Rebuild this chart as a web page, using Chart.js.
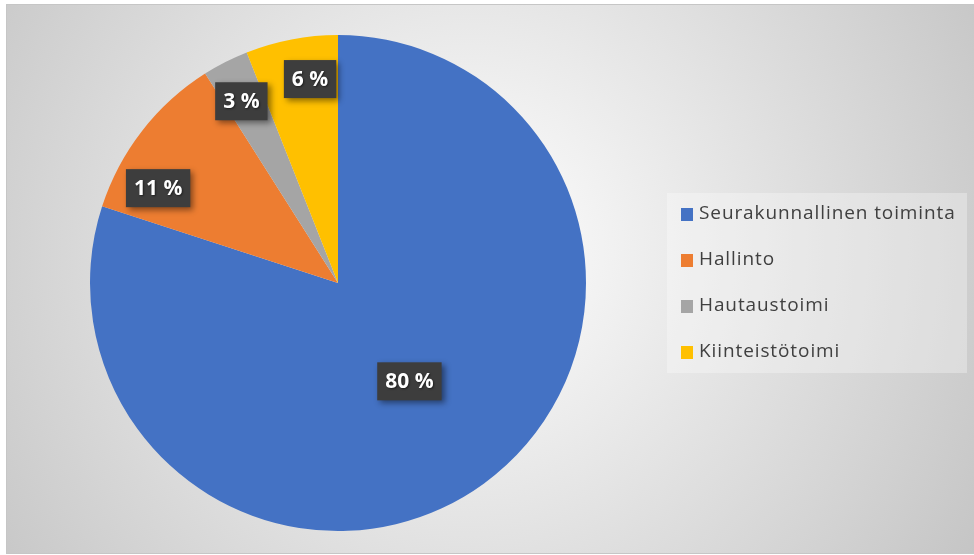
<!DOCTYPE html>
<html>
<head>
<meta charset="utf-8">
<script src="https://cdn.jsdelivr.net/npm/chart.js@4"></script>
<style>
  html, body { margin: 0; padding: 0; background: #fff; }
  #wrap { width: 974px; height: 555px; }
</style>
</head>
<body>
<div id="wrap"><canvas id="chart"></canvas></div>
<script>
// data
var labels = ['Seurakunnallinen toiminta', 'Hallinto', 'Hautaustoimi', 'Kiinteistötoimi'];
var values = [80, 11, 3, 6];
var colors = ['#4472C4', '#ED7D31', '#A5A5A5', '#FFC000'];

// label placement: radius as fraction of outer radius, angle nudge in degrees
var labelRadius = [0.49, 0.82, 0.83, 0.83];
var labelNudge = [0, -10, -1, 3];

var bgPlugin = {
    id: 'bg',
    beforeDraw: function (chart) {
        var ctx = chart.ctx;
        ctx.save();
        var g = ctx.createRadialGradient(470, 250, 0, 470, 250, 620);
        g.addColorStop(0, '#ffffff');
        g.addColorStop(1, '#c2c2c2');
        ctx.fillStyle = g;
        ctx.fillRect(6, 4, 968, 550);
        ctx.strokeStyle = '#c6c6c6';
        ctx.lineWidth = 1;
        ctx.strokeRect(6.5, 4.5, 968, 549);
        ctx.restore();
    }
};

var legendPlugin = {
    id: 'boxLegend',
    afterDraw: function (chart) {
        var ctx = chart.ctx;
        ctx.save();
        ctx.fillStyle = 'rgba(255,255,255,0.3)';
        ctx.fillRect(667, 193, 300, 180);
        ctx.font = '19px "Open Sans", sans-serif';
        ctx.letterSpacing = '0.9px';
        ctx.textBaseline = 'middle';
        for (var i = 0; i < labels.length; i++) {
            var y = 214 + i * 46;
            ctx.fillStyle = colors[i];
            ctx.fillRect(681, y - 6, 12, 13);
            ctx.fillStyle = '#404040';
            ctx.fillText(labels[i], 699, y);
        }
        ctx.restore();
    }
};

var labelPlugin = {
    id: 'boxLabels',
    afterDatasetsDraw: function (chart) {
        var ctx = chart.ctx;
        var meta = chart.getDatasetMeta(0);
        var total = values.reduce(function (a, b) { return a + b; }, 0);
        ctx.save();
        ctx.font = 'bold 21px "Open Sans", sans-serif';
        ctx.textAlign = 'center';
        ctx.textBaseline = 'middle';
        meta.data.forEach(function (arc, i) {
            var p = arc.getProps(['x', 'y', 'startAngle', 'endAngle', 'outerRadius'], true);
            var a = (p.startAngle + p.endAngle) / 2 + labelNudge[i] * Math.PI / 180;
            var r = p.outerRadius * labelRadius[i];
            var cx = p.x + Math.cos(a) * r;
            var cy = p.y + Math.sin(a) * r;
            var txt = Math.round(values[i] / total * 100) + ' %';
            var w = ctx.measureText(txt).width + 16;
            var h = 38;
            ctx.shadowColor = 'rgba(0,0,0,0.45)';
            ctx.shadowBlur = 6;
            ctx.shadowOffsetX = 3;
            ctx.shadowOffsetY = 3;
            ctx.fillStyle = '#3d3d3d';
            ctx.fillRect(cx - w / 2, cy - h / 2, w, h);
            ctx.shadowColor = 'rgba(0,0,0,0.5)';
            ctx.shadowBlur = 2;
            ctx.shadowOffsetX = 1;
            ctx.shadowOffsetY = 1;
            ctx.fillStyle = '#ffffff';
            ctx.fillText(txt, cx, cy + 1);
        });
        ctx.restore();
    }
};

var chart = new Chart(document.getElementById('chart'), {
    type: 'pie',
    data: {
        labels: labels,
        datasets: [{
            data: values,
            backgroundColor: colors,
            borderWidth: 0,
            hoverOffset: 0
        }]
    },
    options: {
        responsive: true,
        maintainAspectRatio: false,
        animation: false,
        layout: { padding: { left: 90, right: 388, top: 35, bottom: 24 } },
        plugins: {
            legend: { display: false },
            tooltip: { enabled: false }
        }
    },
    plugins: [bgPlugin, legendPlugin, labelPlugin]
});
</script>
</body>
</html>
